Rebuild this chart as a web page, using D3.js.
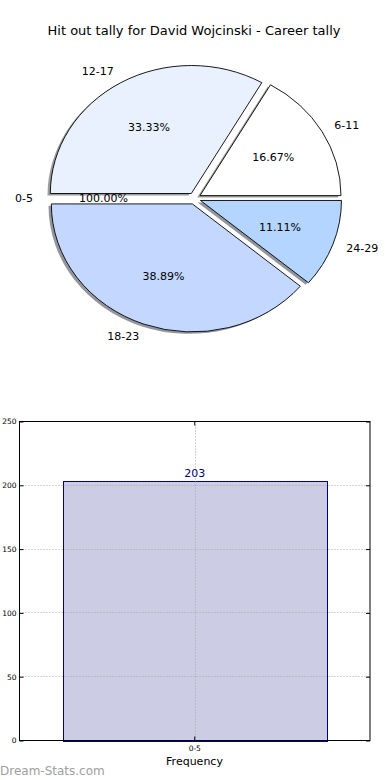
<!DOCTYPE html>
<html>
<head>
<meta charset="utf-8">
<script src="https://cdn.jsdelivr.net/npm/d3@7"></script>
<style>
  body { margin: 0; background: #fff; }
  svg { display: block; font-family: "DejaVu Sans", sans-serif; }
</style>
</head>
<body>
<div id="chart"></div>
<script>
// pie data, in drawing order (counter-clockwise from 3 o'clock)
var pieLabels = ['6-11', '12-17', '0-5', '18-23', '24-29'];
var pieValues = [3, 6, 0, 7, 2];
var pieTexts = ['16.67%', '33.33%', '100.00%', '38.89%', '11.11%'];
var pieColors = ['#ffffff', '#e9f0fe', '#ffffff', '#c4d8ff', '#b3d5ff'];

// bar data
var barCategories = ['0-5'];
var barValues = [203];
var yTicks = [0, 50, 100, 150, 200, 250];

var width = 390, height = 780;
var svg = d3.select('#chart').append('svg')
    .attr('width', width)
    .attr('height', height);

// title
svg.append('text')
    .attr('x', 194)
    .attr('y', 35)
    .attr('text-anchor', 'middle')
    .style('font-size', '13px')
    .text('Hit out tally for David Wojcinski - Career tally');

// ---- pie ----
var cx = 194.5, cy = 198.5, rx = 141, ry = 128;
var explode = 0.045;

var pie = d3.pie().sort(null).value(function (d) { return d; })
    .startAngle(Math.PI / 2)
    .endAngle(Math.PI / 2 - 2 * Math.PI);
var arcs = pie(pieValues);
var unitArc = d3.arc().innerRadius(0).outerRadius(1);

// mid angle in math convention (radians, counter-clockwise from east)
function midAngle(a) {
    return Math.PI / 2 - (a.startAngle + a.endAngle) / 2;
}

var pieG = svg.append('g');
// zero slices leave no wedge
var shown = arcs.filter(function (a) { return a.value > 0; });

// shadows first
pieG.selectAll('path.shadow')
    .data(shown)
    .enter()
    .append('path')
        .attr('class', 'shadow')
        .attr('d', unitArc)
        .attr('transform', function (a) {
            var m = midAngle(a);
            var ox = cx + Math.cos(m) * explode * rx - 0.02 * rx;
            var oy = cy - Math.sin(m) * explode * ry + 0.015 * ry;
            return 'translate(' + ox + ',' + oy + ') scale(' + rx + ',' + ry + ')';
        })
        .attr('fill', function (a) {
            var c = d3.rgb(pieColors[a.index]);
            return d3.rgb(c.r * 0.3, c.g * 0.3, c.b * 0.3);
        })
        .attr('fill-opacity', 0.55);

pieG.selectAll('path.slice')
    .data(shown)
    .enter()
    .append('path')
        .attr('class', 'slice')
        .attr('d', unitArc)
        .attr('transform', function (a) {
            var m = midAngle(a);
            var ox = cx + Math.cos(m) * explode * rx;
            var oy = cy - Math.sin(m) * explode * ry;
            return 'translate(' + ox + ',' + oy + ') scale(' + rx + ',' + ry + ')';
        })
        .attr('fill', function (a) { return pieColors[a.index]; })
        .attr('stroke', '#000')
        .attr('stroke-width', 0.9)
        .attr('vector-effect', 'non-scaling-stroke');

// outer labels
pieG.selectAll('text.lab')
    .data(arcs)
    .enter()
    .append('text')
        .attr('class', 'lab')
        .attr('x', function (a) { return cx + Math.cos(midAngle(a)) * (1.1 + explode) * rx; })
        .attr('y', function (a) { return cy - Math.sin(midAngle(a)) * (1.1 + explode) * ry; })
        .attr('dy', '0.35em')
        .attr('text-anchor', function (a) { return Math.cos(midAngle(a)) < 0 ? 'end' : 'start'; })
        .style('font-size', '11px')
        .text(function (a, i) { return pieLabels[i]; });

// percentages
pieG.selectAll('text.pct')
    .data(arcs)
    .enter()
    .append('text')
        .attr('class', 'pct')
        .attr('x', function (a) { return cx + Math.cos(midAngle(a)) * (0.6 + explode) * rx; })
        .attr('y', function (a) { return cy - Math.sin(midAngle(a)) * (0.6 + explode) * ry; })
        .attr('dy', '0.35em')
        .attr('text-anchor', 'middle')
        .style('font-size', '11px')
        .text(function (a, i) { return pieTexts[i]; });

// ---- bar chart ----
var axLeft = 19.5, axRight = 370, axTop = 421.5, axBottom = 740.5;

var xScale = d3.scaleBand()
    .domain(barCategories)
    .range([axLeft, axRight])
    .padding(0.14);
var yScale = d3.scaleLinear()
    .domain([0, 250])
    .range([axBottom, axTop]);

var g = svg.append('g');

// bars
g.selectAll('rect.bar')
    .data(barValues)
    .enter()
    .append('rect')
        .attr('class', 'bar')
        .attr('x', function (d, i) { return Math.round(xScale(barCategories[i])) + 0.5; })
        .attr('y', function (d) { return Math.round(yScale(d)) + 0.5; })
        .attr('width', Math.round(xScale.bandwidth()))
        .attr('height', function (d) { return Math.round(yScale(0)) - Math.round(yScale(d)); })
        .attr('fill', '#cccce5')
        .attr('stroke', '#000080')
        .attr('stroke-width', 1);

// grid lines
g.selectAll('line.hgrid')
    .data(yTicks)
    .enter()
    .append('line')
        .attr('x1', axLeft).attr('x2', axRight)
        .attr('y1', function (d) { return Math.floor(yScale(d)) + 0.5; })
        .attr('y2', function (d) { return Math.floor(yScale(d)) + 0.5; })
        .attr('stroke', '#a8a8a8')
        .attr('stroke-dasharray', '1,2');
g.selectAll('line.vgrid')
    .data(barCategories)
    .enter()
    .append('line')
        .attr('x1', function (d) { return Math.round(xScale(d) + xScale.bandwidth() / 2) + 0.5; })
        .attr('x2', function (d) { return Math.round(xScale(d) + xScale.bandwidth() / 2) + 0.5; })
        .attr('y1', axTop).attr('y2', axBottom)
        .attr('stroke', '#a8a8a8')
        .attr('stroke-dasharray', '1,2');

// value labels
g.selectAll('text.val')
    .data(barValues)
    .enter()
    .append('text')
        .attr('x', function (d, i) { return xScale(barCategories[i]) + xScale.bandwidth() / 2; })
        .attr('y', function (d) { return yScale(d) - 4; })
        .attr('text-anchor', 'middle')
        .attr('fill', '#000080')
        .style('font-size', '11px')
        .text(function (d) { return d; });

// axes (ticks inside, on both sides)
var yAxis = d3.axisLeft(yScale).tickValues(yTicks).tickSizeInner(-4).tickSizeOuter(0).tickPadding(3);
var yAxisR = d3.axisRight(yScale).tickValues(yTicks).tickSizeInner(-4).tickSizeOuter(0).tickFormat('');
var xAxis = d3.axisBottom(xScale).tickSizeInner(-4).tickSizeOuter(0).tickPadding(5);
var xAxisT = d3.axisTop(xScale).tickSizeInner(-4).tickSizeOuter(0).tickFormat('');

g.append('g').attr('transform', 'translate(' + axLeft + ',0)').call(yAxis);
g.append('g').attr('transform', 'translate(' + axRight + ',0)').call(yAxisR);
g.append('g').attr('transform', 'translate(0,' + axBottom + ')').call(xAxis);
g.append('g').attr('transform', 'translate(0,' + axTop + ')').call(xAxisT);

g.selectAll('.domain').remove();
g.selectAll('.tick line').attr('stroke', '#000');
g.selectAll('.tick text').style('font-size', '7.5px').style('font-family', '"DejaVu Sans", sans-serif').attr('fill', '#000');

// frame
g.append('rect')
    .attr('x', axLeft).attr('y', axTop)
    .attr('width', axRight - axLeft).attr('height', axBottom - axTop)
    .attr('fill', 'none')
    .attr('stroke', '#000')
    .attr('stroke-width', 1);

// x label
svg.append('text')
    .attr('x', 194.5)
    .attr('y', 765)
    .attr('text-anchor', 'middle')
    .style('font-size', '11px')
    .text('Frequency');

// watermark
svg.append('text')
    .attr('x', 0)
    .attr('y', 775)
    .attr('fill', '#a0a0a0')
    .style('font-size', '12px')
    .text('Dream-Stats.com');
</script>
</body>
</html>
